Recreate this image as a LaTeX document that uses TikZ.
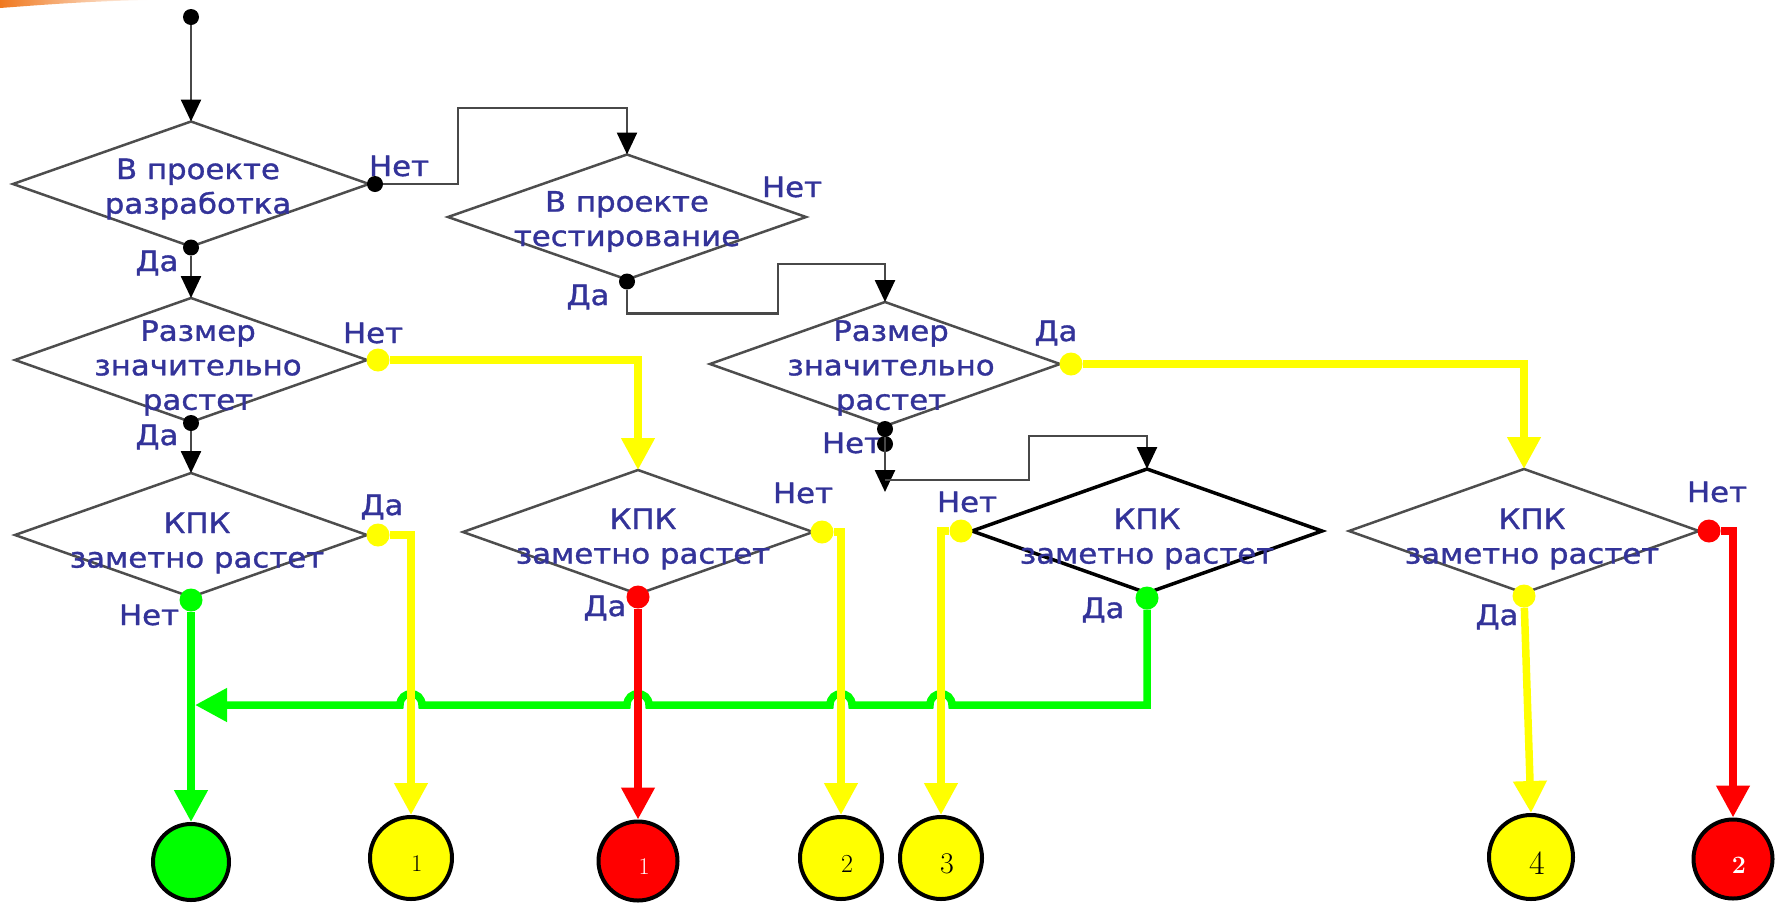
\documentclass[tikz,border=0pt]{standalone}
\usepackage{fontspec}
\newfontfamily\djv[FakeStretch=1.1,FakeBold=1.2]{DejaVu Sans}
\usetikzlibrary{shapes.geometric,arrows.meta,calc}
\definecolor{textblue}{RGB}{51,51,153}
\definecolor{diagray}{RGB}{77,77,77}
\definecolor{linegray}{RGB}{72,72,72}
\definecolor{ylw}{RGB}{255,255,0}
\definecolor{grn}{RGB}{0,255,0}
\definecolor{rd}{RGB}{255,0,0}
\definecolor{swoosh}{RGB}{240,120,30}
\begin{document}
\begin{tikzpicture}[x=1pt,y=-1pt,
  dia/.style={shape=diamond, draw=diagray, line width=2.5pt, inner sep=0pt, outer sep=0pt, minimum width=350pt, minimum height=124pt},
  txt/.style={font=\djv\fontsize{28}{34.5}\selectfont, text=textblue, align=center, inner sep=0pt},
  bdot/.style={circle, fill=black, inner sep=0pt, minimum size=16pt},
  cdot/.style={circle, fill=#1, inner sep=0pt, minimum size=23pt},
  conn/.style={draw=linegray, line width=2.5pt, -{Triangle[length=22pt,width=20pt,color=black]}},
  cline/.style={draw=#1, line width=7.5pt, -{Triangle[length=32pt,width=32pt]}},
  endc/.style={circle, draw=black, line width=4pt, fill=#1, minimum size=82pt, inner sep=0pt},
  num/.style={font=\fontsize{#1}{#1}\selectfont, inner sep=0pt, xshift=6pt, yshift=-6pt}
]
\useasboundingbox (0,0) rectangle (1782,903);
\shade[left color=swoosh, right color=white] (0,0) -- (0,8) .. controls (40,5) and (90,1) .. (150,0) -- cycle;

% diamonds
\node[dia, minimum width=356pt, minimum height=125pt] (D1) at (191,184) {};
\node[dia, minimum width=358pt, minimum height=125pt] (D2) at (627,217) {};
\node[dia, minimum width=352pt] (D3) at (191,360) {};
\node[dia, minimum width=352pt] (D4) at (191,535) {};
\node[dia] (D5) at (885,364) {};
\node[dia] (D6) at (638,532) {};
\node[dia, draw=black, line width=3.5pt] (D8) at (1147,531) {};
\node[dia] (D7) at (1524,531) {};

% diamond texts
\node[txt] (t1) at (198,189) {В проекте\\разработка};
\node[txt] (t2) at (627,221.5) {В проекте\\тестирование};
\node[txt] (t3) at (198,368) {Размер\\значительно\\растет};
\node[txt] (t4) at (197,543) {КПК\\заметно растет};
\node[txt] (t5) at (891,368) {Размер\\значительно\\растет};
\node[txt] (t6) at (643,539) {КПК\\заметно растет};
\node[txt] (t8) at (1147,539) {КПК\\заметно растет};
\node[txt] (t7) at (1532,539) {КПК\\заметно растет};

% branch labels
\node[txt] (l1n) at (399,166) {Нет};
\node[txt] (l1y) at (157,263) {Да};
\node[txt] (l2n) at (792,187) {Нет};
\node[txt] (l2y) at (588,297) {Да};
\node[txt] (l3n) at (373,333) {Нет};
\node[txt] (l3y) at (157,437) {Да};
\node[txt] (l4y) at (382,507) {Да};
\node[txt] (l4n) at (149,615) {Нет};
\node[txt] (l6n) at (803,493) {Нет};
\node[txt] (l6y) at (605,608) {Да};
\node[txt] (l5y) at (1056,333) {Да};
\node[txt] (l5n) at (852,443) {Нет};
\node[txt] (l8n) at (967,502) {Нет};
\node[txt] (l8y) at (1103,610) {Да};
\node[txt] (l7n) at (1717,492) {Нет};
\node[txt] (l7y) at (1497,617) {Да};

% end circles
\node[endc=grn, minimum size=76pt] (G) at (191,862) {};
\node[endc=ylw, label={[num=24]center:1}] (Y1) at (411,858) {};
\node[endc=rd, minimum size=79pt, label={[num=24, text=white]center:1}] (R1) at (638,861) {};
\node[endc=ylw, label={[num=26]center:2}] (Y2) at (841,858) {};
\node[endc=ylw, label={[num=30]center:3}] (Y3) at (941,858) {};
\node[endc=ylw, minimum size=84pt, label={[num=34]center:4}] (Y4) at (1531,857) {};
\node[endc=rd, minimum size=79pt, label={[num=25, text=white, font=\bfseries\fontsize{25}{25}\selectfont]center:2}] (R2) at (1733,859) {};

% dots
\node[bdot, minimum size=16pt] (start) at (191,17) {};
\node[bdot] (d1n) at ($(D1.east)+(6,0)$) {};
\node[bdot] (d1y) at ($(D1.south)+(0,1)$) {};
\node[bdot] (d2y) at ($(D2.south)+(0,2)$) {};
\node[bdot] (d3y) at ($(D3.south)+(0,1)$) {};
\node[bdot] (d5n1) at ($(D5.south)+(0,3)$) {};
\node[bdot] (d5n2) at ($(D5.south)+(0,18)$) {};
\node[cdot=ylw] (d3n) at ($(D3.east)+(11,0)$) {};
\node[cdot=ylw] (d4y) at ($(D4.east)+(11,0)$) {};
\node[cdot=grn] (d4n) at ($(D4.south)+(0,3)$) {};
\node[cdot=ylw] (d6n) at ($(D6.east)+(9,0)$) {};
\node[cdot=rd] (d6y) at ($(D6.south)+(0,3)$) {};
\node[cdot=ylw] (d5y) at ($(D5.east)+(11,0)$) {};
\node[cdot=ylw] (d8n) at ($(D8.west)+(-11,0)$) {};
\node[cdot=grn] (d8y) at ($(D8.south)+(0,5)$) {};
\node[cdot=rd] (d7n) at ($(D7.east)+(10,0)$) {};
\node[cdot=ylw] (d7y) at ($(D7.south)+(0,3)$) {};

\coordinate (n5tip) at ($(D5.south)+(0,66)$);
\coordinate (n5br) at ($(D5.south)+(0,54)$);
\coordinate (bj) at (195,705);

% black connectors
\draw[conn] (start) -- (D1.north);
\draw[conn] (d1n) -| (458,108) -| (D2.north);
\draw[conn] (d1y) -- (D3.north);
\draw[conn] (d3y) -- (D4.north);
\draw[conn] (d2y) -- ++(0,32) -| (778,264) -| (D5.north);
\draw[conn] (d5n1) -- (n5tip);
\draw[conn] (n5br) -| (1029,436) -| (D8.north);

% green bus with hops
\draw[grn, line width=7.5pt, -{Triangle[length=32pt,width=32pt]}] (d8y) -- (1147,705)
  -- (952,705) .. controls (952,690) and (930,690) .. (930,705)
  -- (852,705) .. controls (852,690) and (830,690) .. (830,705)
  -- (649,705) .. controls (649,690) and (627,690) .. (627,705)
  -- (422,705) .. controls (422,690) and (400,690) .. (400,705)
  -- (bj);

% coloured connectors
\draw[cline=ylw] (d3n) -| (D6.north);
\draw[cline=ylw] (d5y) -| (D7.north);
\draw[cline=ylw] (d4y) -| (Y1.north);
\draw[cline=grn] (d4n) -- (G.north);
\draw[cline=rd] (d6y) -- (R1.north);
\draw[cline=ylw] (d6n) -| (Y2.north);
\draw[cline=ylw] (d8n) -| (Y3.north);
\draw[cline=rd] (d7n) -| (R2.north);
\draw[cline=ylw] (d7y) -- (Y4.north);
\end{tikzpicture}
\end{document}
